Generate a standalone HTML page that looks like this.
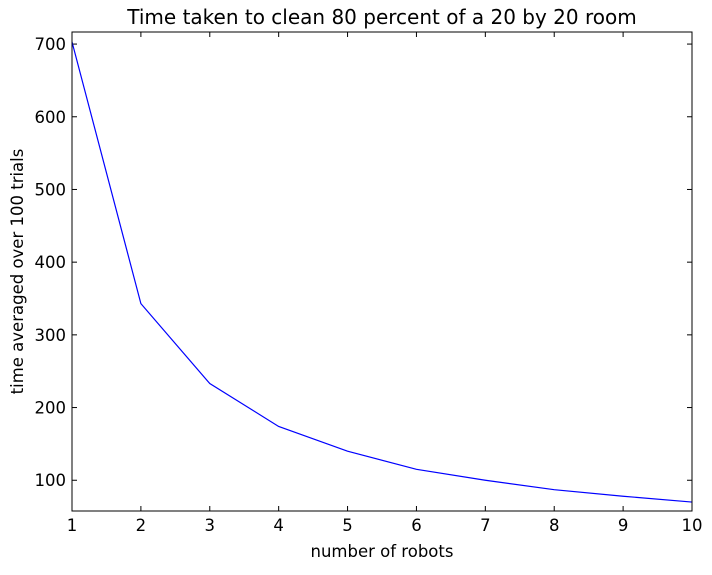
<!DOCTYPE html>
<html><head><meta charset="utf-8"><style>
body{margin:0;background:#fff;}
svg text{font-family:"DejaVu Sans","Liberation Sans",sans-serif;}
</style></head><body>
<svg id="chart" width="712" height="570" xmlns="http://www.w3.org/2000/svg"></svg>
<script>
const robots=[1,2,3,4,5,6,7,8,9,10];
const times=[703,343,233,174,140,115,100,87,78,70];
const xTicks=[1,2,3,4,5,6,7,8,9,10];
const yTicks=[100,200,300,400,500,600,700];
const L=72,R=692,T=32,B=511,xMin=1,xMax=10,yMin=57.7,yMax=716.6;
const sx=v=>L+(v-xMin)/(xMax-xMin)*(R-L);
const sy=v=>B-(v-yMin)/(yMax-yMin)*(B-T);
const svg=document.getElementById('chart');
const NS='http://www.w3.org/2000/svg';
function mk(tag,attrs,parent){const e=document.createElementNS(NS,tag);for(const k in attrs)e.setAttribute(k,attrs[k]);(parent||svg).appendChild(e);return e;}
const xg=mk('g',{});


xTicks.forEach(v=>{
 const x=sx(v);
 mk('line',{x1:x,x2:x,y1:B,y2:B-5,stroke:'#000'},xg);
 mk('line',{x1:x,x2:x,y1:T,y2:T+5,stroke:'#000'},xg);
 const t=mk('text',{x:x,y:B+20,'text-anchor':'middle','font-size':'16.5'},xg);
 
 
 t.textContent=v;
});
const yg=mk('g',{});


yTicks.forEach(v=>{
 const y=sy(v);
 mk('line',{x1:L,x2:L+5,y1:y,y2:y,stroke:'#000'},yg);
 mk('line',{x1:R,x2:R-5,y1:y,y2:y,stroke:'#000'},yg);
 const t=mk('text',{x:L-6,y:y+6,'text-anchor':'end','font-size':'16.5'},yg);
 
 
 t.textContent=v;
});
const line=mk('polyline',{points:robots.map((r,i)=>sx(r)+','+sy(times[i])).join(' '),fill:'none',stroke:'#0000ff','stroke-width':'1.2'});


const frame=mk('rect',{x:L,y:T,width:R-L,height:B-T,fill:'none',stroke:'#000','stroke-width':'1'});


const title=mk('text',{x:(L+R)/2,y:24,'text-anchor':'middle','font-size':'20'});


title.textContent='Time taken to clean 80 percent of a 20 by 20 room';
const xl=mk('text',{x:(L+R)/2,y:557,'text-anchor':'middle','font-size':'16.5'});


xl.textContent='number of robots';
const yl=mk('text',{x:0,y:0,'text-anchor':'middle','font-size':'16.5',transform:'translate(23,'+((T+B)/2)+') rotate(-90)'});


yl.textContent='time averaged over 100 trials';
</script>
</body></html>
